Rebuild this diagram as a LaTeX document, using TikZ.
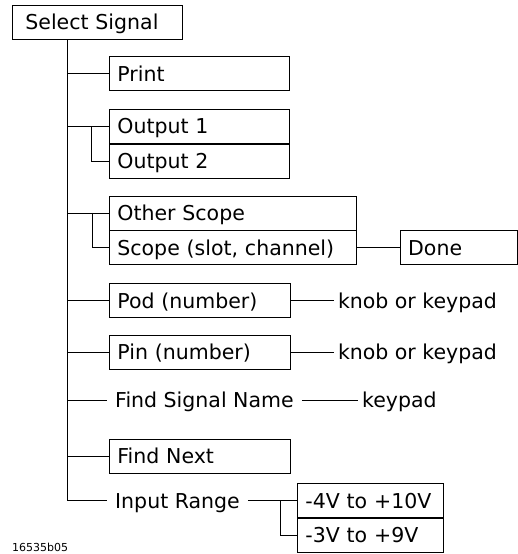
\documentclass[tikz,border=0pt]{standalone}
\usepackage{fontspec}
\setmainfont{DejaVu Sans}
\usetikzlibrary{positioning}
\newcommand{\menufont}{\fontsize{20.5}{24}\selectfont}
\newcommand{\tagfont}{\fontsize{11}{13}\selectfont}

\begin{document}
\begin{tikzpicture}[
  x=1pt, y=-1pt,
  box/.style={draw, rectangle, line width=0.8pt, anchor=west,
              minimum height=34pt, inner xsep=8pt, inner ysep=0pt,
              text width=#1, align=left, font=\menufont,
              text height=15pt, text depth=0pt},
  lbl/.style={rectangle, anchor=west, inner ysep=0pt, font=\menufont,
              text height=15pt, text depth=0pt},
  wire/.style={line width=0.8pt},
  node distance=17pt and 43pt
]
\useasboundingbox (0,0) rectangle (517,554);

%% Top menu box
\node[box=144pt, inner xsep=13pt] (sel) at (12,22) {Select Signal};
\coordinate (trunk) at ([xshift=55pt]sel.south west);

%% Column of choices
\node[box=164pt] (print) at (109,73.5) {Print};
\node[box=164pt, below=18pt of print.south west, anchor=north west]
  (out1) {Output 1};
\node[box=164pt, below=0pt of out1.south west, anchor=north west]
  (out2) {Output 2};
\node[box=231pt, below=17pt of out2.south west, anchor=north west]
  (other) {Other Scope};
\node[box=231pt, below=0pt of other.south west, anchor=north west]
  (scope) {Scope (slot, channel)};
\node[box=101pt, right=43pt of scope] (done) {Done};
\node[box=165pt, below=18pt of scope.south west, anchor=north west]
  (pod) {Pod (number)};
\node[box=165pt, below=17pt of pod.south west, anchor=north west]
  (pin) {Pin (number)};
\node[box=165pt, below=69pt of pin.south west, anchor=north west]
  (findnext) {Find Next};

%% Plain labels
\node[lbl, inner xsep=4pt, right=43pt of pod] (knob1) {knob or keypad};
\node[lbl, inner xsep=4pt, right=43pt of pin] (knob2) {knob or keypad};
\node[lbl, inner xsep=8pt] (findsig) at (107,400) {Find Signal Name};
\node[lbl, inner xsep=4pt] (keypad) at (358,400) {keypad};
\node[lbl, inner xsep=8pt] (inrange) at (107,500.5) {Input Range};

%% Range choices
\node[box=130pt] (rng1) at (297,500.5) {-4V to +10V};
\node[box=130pt, below=0pt of rng1.south west, anchor=north west]
  (rng2) {-3V to +9V};

\node[font=\tagfont, anchor=west, inner sep=0pt] (fignum) at (12,547) {16535b05};

%% Tree lines
\draw[wire] (trunk) -- (trunk |- inrange.west);
\foreach \n in {print,out1,other,pod,pin,findsig,findnext,inrange}
  \draw[wire] (trunk |- \n.west) -- (\n.west);
\draw[wire] ([xshift=-18pt]out1.west) |- (out2.west);
\draw[wire] ([xshift=-17pt]other.west) |- (scope.west);
\draw[wire] (scope) -- (done);
\draw[wire] (pod) -- (knob1);
\draw[wire] (pin) -- (knob2);
\draw[wire] (findsig) -- (keypad);
\draw[wire] (inrange.east) -- (inrange.east -| rng1.west);
\draw[wire] ([xshift=-17pt]rng1.west) |- (rng2.west);

\end{tikzpicture}
\end{document}
